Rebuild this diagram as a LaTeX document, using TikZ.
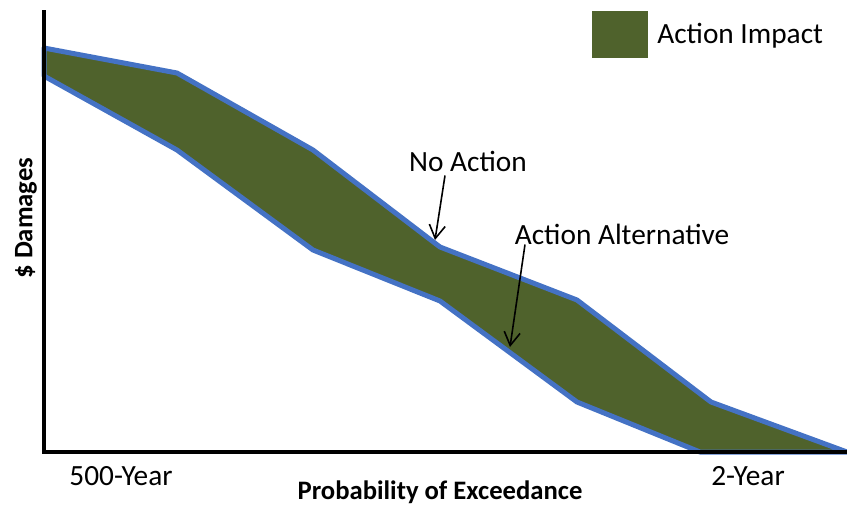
\documentclass[tikz,border=0pt]{standalone}
\usepackage{fontspec}
\setmainfont{Carlito}
\usetikzlibrary{arrows.meta}
\definecolor{impactgreen}{RGB}{79,98,44}
\definecolor{curveblue}{RGB}{68,114,196}

\begin{document}
\begin{tikzpicture}[x=0.75pt,y=-0.75pt,
  lbl/.style={font=\fontsize{22}{26}\selectfont,inner sep=0pt},
  axlbl/.style={font=\bfseries\fontsize{20}{24}\selectfont,inner sep=0pt},
  pointer/.style={-{Straight Barb[length=10pt,width=12pt]},line width=1.2pt}]
\useasboundingbox (0,0) rectangle (847,504);
% band between the two curves
\fill[impactgreen,draw=curveblue,line width=3.75pt,line join=round]
  (44,48) -- (177,73) -- (313,150) -- (440,247) -- (577,300) -- (711,402) -- (847,452)
  -- (700,452) -- (577,402) -- (440,301) -- (313,250) -- (177,150) -- (44,76) -- cycle;
% axes
\draw[line width=3pt] (44,10) -- (44,452) -- (847,452);
\node[axlbl,rotate=90] (ylab) at (26,218) {\$ Damages};
\node[axlbl] (xlab) at (440,492) {Probability of Exceedance};
\node[lbl] (lowend) at (121,476) {500-Year};
\node[lbl] (highend) at (748,476) {2-Year};
% legend
\fill[impactgreen] (592,11) rectangle (648,58);
\node[lbl,anchor=west] (legend) at (657,36) {Action Impact};
% curve labels
\coordinate (noact) at (435,240);
\coordinate (alt) at (510,347);
\node[lbl] (nolab) at (468,161) {No Action};
\node[lbl] (altlab) at (622,234) {Action Alternative};
\draw[pointer] (nolab.south) ++(-23,4) -- (noact);
\draw[pointer] (altlab.south) ++(-97,0) -- (alt);
\end{tikzpicture}
\end{document}
